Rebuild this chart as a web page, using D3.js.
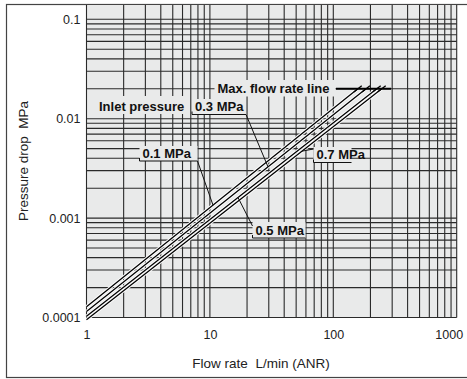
<!DOCTYPE html>
<meta charset="utf-8">
<style>
 body { margin: 0; background: #fff; }
 svg text { font-family: "Liberation Sans", Arial, sans-serif; fill: #222; white-space: pre; }
 .axis text { font-size: 12.5px; }
 .axis path, .axis line { display: none; }
 .axis-label { font-size: 13.5px; }
 .grid line { stroke: #2a2a2a; stroke-width: 1.1; }
 .note text { font-size: 13px; font-weight: bold; fill: #111; }
 .note rect { fill: #e9eaea; }
 .note path { fill: none; stroke: #111; stroke-width: 1; }
</style>
<body>
<svg width="467" height="379"></svg>
<script src="https://d3js.org/d3.v7.min.js"></script>
<script>

 // x: flow rate L/min (ANR), y: pressure drop MPa
 var flowTicks = [1, 10, 100, 1000];
 var flowTickLabels = ["1", "10", "100", "1000"];
 var dropTicks = [0.0001, 0.001, 0.01, 0.1];
 var dropTickLabels = ["0.0001", "0.001", "0.01", "0.1"];

 var pressures = ["0.1 MPa", "0.3 MPa", "0.5 MPa", "0.7 MPa"];
 var flowStart = [1, 1, 1, 1];
 var dropStart = [0.000128, 0.000115, 0.000103, 0.000095];
 var flowMax = [158, 184, 225, 247];
 var dropMax = [0.02, 0.02, 0.02, 0.02];

 var svg = d3.select("svg");

 var plotTop = 5, plotBottom = 317.5, plotLeft = 86.5, plotRight = 456.7;

 var x = d3.scaleLog().domain([1, 1000]).range([plotLeft, plotRight]);
 var y = d3.scaleLog().domain([0.0001, 0.1]).range([plotBottom, 19.3]);

 // outer frame (right edge falls just off the picture)
 svg.append("rect")
    .attr("x", 6.5).attr("y", 4.5)
    .attr("width", 462).attr("height", 373)
    .style("fill", "none").style("stroke", "#444").style("stroke-width", 1.2);

 svg.append("rect")
    .attr("x", plotLeft).attr("y", plotTop)
    .attr("width", plotRight - plotLeft).attr("height", plotBottom - plotTop)
    .style("fill", "#e9eaea");

 var grid = svg.append("g").attr("class", "grid");
 grid.selectAll(".vx").data(x.ticks())
     .enter().append("line")
     .attr("x1", d => x(d)).attr("x2", d => x(d))
     .attr("y1", plotTop).attr("y2", plotBottom);
 grid.selectAll(".hy").data(y.ticks())
     .enter().append("line")
     .attr("x1", plotLeft).attr("x2", plotRight)
     .attr("y1", d => y(d)).attr("y2", d => y(d));

 svg.append("g")
    .attr("class", "axis")
    .attr("transform", "translate(0," + plotBottom + ")")
    .call(d3.axisBottom(x).tickValues(flowTicks).tickSize(0).tickPadding(13)
          .tickFormat((d, i) => flowTickLabels[i]))
    .selectAll("text")
    .attr("dx", (d, i) => i == flowTicks.length - 1 ? -8 : 0);

 svg.append("g")
    .attr("class", "axis")
    .attr("transform", "translate(" + plotLeft + ",0)")
    .call(d3.axisLeft(y).tickValues(dropTicks).tickSize(0).tickPadding(6)
          .tickFormat((d, i) => dropTickLabels[i]));

 svg.append("text")
    .attr("class", "axis-label")
    .attr("x", 261).attr("y", 368)
    .attr("text-anchor", "middle")
    .text("Flow rate  L/min (ANR)");

 svg.append("text")
    .attr("class", "axis-label")
    .attr("transform", "translate(27.5,161) rotate(-90)")
    .attr("text-anchor", "middle")
    .text("Pressure drop  MPa");

 // curves
 var series = pressures.map(function(p, i) {
     return {name: p, pts: [[flowStart[i], dropStart[i]], [flowMax[i], dropMax[i]]]};
 });
 var line = d3.line().x(d => x(d[0])).y(d => y(d[1]));

 var curves = svg.append("g");
 curves.selectAll(".case").data(series).enter().append("path")
       .attr("d", d => line(d.pts))
       .style("fill", "none").style("stroke", "#fff").style("stroke-width", 3.2);
 curves.selectAll(".crv").data(series).enter().append("path")
       .attr("d", d => line(d.pts))
       .style("fill", "none").style("stroke", "#000").style("stroke-width", 1.3);

 // value on a curve at flow q
 function dropAt(i, q) {
     var k = Math.log(dropMax[i] / dropStart[i]) / Math.log(flowMax[i] / flowStart[i]);
     return dropStart[i] * Math.pow(q / flowStart[i], k);
 }

 // max flow rate line
 var yMax = y(dropMax[0]);
 svg.append("line")
    .attr("x1", 336).attr("x2", 391)
    .attr("y1", yMax).attr("y2", yMax)
    .style("stroke", "#000").style("stroke-width", 2);
 series.forEach(function(s, i) {
     var x0 = x(flowMax[i]), y0 = y(dropMax[i]);
     var x1 = x(flowStart[i]), y1 = y(dropStart[i]);
     var len = Math.hypot(x0 - x1, y0 - y1);
     var ux = (x0 - x1) / len, uy = (y0 - y1) / len;
     svg.append("line")
        .attr("x1", x0 - ux * 5).attr("y1", y0 - uy * 5)
        .attr("x2", x0 + ux * 5).attr("y2", y0 + uy * 5)
        .style("stroke", "#000").style("stroke-width", 1.3);
 });

 // annotations
 var notes = svg.append("g").attr("class", "note");

 function note(txt, bx, by, bw, bh, frame) {
     var g = notes.append("g");
     g.append("rect").attr("x", bx).attr("y", by).attr("width", bw).attr("height", bh);
     g.append("text").attr("x", bx + 3).attr("y", by + bh - 3.5).text(txt);
     if (frame) {
         g.append("path").attr("d", "M" + bx + "," + (by + bh - 3) + "V" + (by + bh) + "H" + (bx + bw));
     }
     return g;
 }
 function leader(xa, ya, i, q) {
     notes.append("path").attr("d", "M" + xa + "," + ya + "L" + x(q) + "," + y(dropAt(i, q)));
 }

 note("Inlet pressure", 96, 96, 93, 18, false);
 note("Max. flow rate line", 214.5, 80, 121, 16.5, false);

 note("0.3 MPa", 192, 99, 54, 15.5, true);
 leader(246, 114.5, 1, x.invert(268));

 note("0.1 MPa", 139.5, 146, 58, 15, true);
 leader(197.5, 161, 0, x.invert(213));

 note("0.5 MPa", 252.5, 222, 53, 16, true);
 leader(252.5, 226, 2, x.invert(238));

 note("0.7 MPa", 313.5, 147, 38, 15.5, true);
 leader(313.5, 149, 3, x.invert(302));

</script>
</body>
